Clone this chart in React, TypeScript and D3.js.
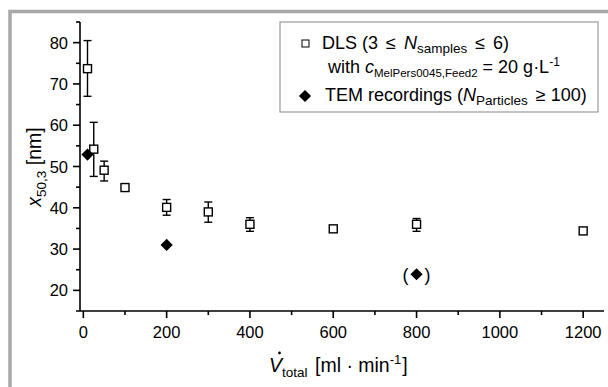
import React from "react";
import * as d3 from "d3";

// DLS measurements (open squares with error bars)
const dlsFlow = [10, 25, 50, 100, 200, 300, 400, 600, 800, 1200];
const dlsSize = [73.7, 54.2, 49.1, 44.9, 40.1, 39.0, 36.0, 34.9, 36.0, 34.4];
const dlsLow = [67.0, 47.6, 46.5, 44.1, 38.2, 36.5, 34.3, 34.4, 34.3, 33.8];
const dlsHigh = [80.5, 60.7, 51.3, 45.7, 42.0, 41.4, 37.6, 35.4, 37.4, 35.0];

// TEM recordings (filled diamonds)
const temFlow = [10, 200, 800];
const temSize = [52.9, 31.0, 23.9];

const xTicks = [0, 200, 400, 600, 800, 1000, 1200];
const xMinor = [100, 300, 500, 700, 900, 1100];
const yTicks = [20, 30, 40, 50, 60, 70, 80];
const yMinor = [25, 35, 45, 55, 65, 75, 85];

const W = 608;
const H = 387;
const font = "'Liberation Sans', Arial, sans-serif";

const x = d3.scaleLinear().domain([-8, 1250]).range([80, 604]);
const y = d3.scaleLinear().domain([15, 85]).range([311, 22]);

const diamond = d3.symbol().type(d3.symbolDiamond2).size(95)();

export default function App() {
  const sq = 8;
  return (
    <svg width={W} height={H} style={{ position: "absolute", left: 0, top: 0 }} fontFamily={font}>
      <rect x={0} y={0} width={W} height={H} fill="#fff" />
      {/* outer grey frame */}
      <rect x={10} y={11.5} width={W + 50} height={H + 50} fill="none" stroke="#a8a8a8" strokeWidth={3.5} />

      {/* axes */}
      <line x1={80} x2={80} y1={y(85)} y2={y(15)} stroke="#000" strokeWidth={1.6} />
      <line x1={76} x2={604} y1={y(15)} y2={y(15)} stroke="#000" strokeWidth={1.6} />
      {yTicks.map((t) => (
        <g key={"y" + t}>
          <line x1={73} x2={80} y1={y(t)} y2={y(t)} stroke="#000" strokeWidth={1.6} />
          <text x={68} y={y(t) + 6} textAnchor="end" fontSize={16.5}>{t}</text>
        </g>
      ))}
      {yMinor.map((t) => (
        <line key={"ym" + t} x1={76} x2={80} y1={y(t)} y2={y(t)} stroke="#000" strokeWidth={1.6} />
      ))}
      {xTicks.map((t) => (
        <g key={"x" + t}>
          <line x1={x(t)} x2={x(t)} y1={y(15)} y2={y(15) + 7} stroke="#000" strokeWidth={1.6} />
          <text x={x(t)} y={338} textAnchor="middle" fontSize={16.5}>{t}</text>
        </g>
      ))}
      {xMinor.map((t) => (
        <line key={"xm" + t} x1={x(t)} x2={x(t)} y1={y(15)} y2={y(15) + 4} stroke="#000" strokeWidth={1.6} />
      ))}

      {/* axis titles */}
      <text x={269} y={372} fontSize={19.5}>
        <tspan fontStyle="italic">V</tspan>
        <tspan fontSize={13.5} dy={5}>total</tspan>
        <tspan dy={-5} dx={2}> [ml · min</tspan>
        <tspan fontSize={13} dy={-8}>-1</tspan>
        <tspan dy={8} dx={1}>]</tspan>
      </text>
      <circle cx={279.5} cy={353} r={1.4} fill="#000" />
      <text transform="translate(41,167) rotate(-90)" textAnchor="middle" fontSize={19.5}>
        <tspan fontStyle="italic">x</tspan>
        <tspan fontSize={13.5} dy={5}>50,3</tspan>
        <tspan dy={-5}> [nm]</tspan>
      </text>

      {/* DLS error bars and squares */}
      {dlsFlow.map((f, i) => (
        <g key={"dls" + i} stroke="#000" strokeWidth={1.4}>
          <line x1={x(f)} x2={x(f)} y1={y(dlsLow[i])} y2={y(dlsHigh[i])} />
          <line x1={x(f) - 4} x2={x(f) + 4} y1={y(dlsLow[i])} y2={y(dlsLow[i])} />
          <line x1={x(f) - 4} x2={x(f) + 4} y1={y(dlsHigh[i])} y2={y(dlsHigh[i])} />
          <rect x={x(f) - sq / 2} y={y(dlsSize[i]) - sq / 2} width={sq} height={sq} fill="#fff" />
        </g>
      ))}

      {/* TEM diamonds */}
      {temFlow.map((f, i) => (
        <path key={"tem" + i} d={diamond} transform={`translate(${x(f)},${y(temSize[i])})`} fill="#000" />
      ))}
      <text x={x(temFlow[2]) - 11} y={y(temSize[2]) + 6.5} fontSize={18} textAnchor="middle">(</text>
      <text x={x(temFlow[2]) + 11} y={y(temSize[2]) + 6.5} fontSize={18} textAnchor="middle">)</text>

      {/* legend */}
      <rect x={280} y={22} width={318} height={90} fill="#fff" stroke="#9a9a9a" strokeWidth={1.2} />
      <rect x={302} y={40} width={7} height={7} fill="#fff" stroke="#000" strokeWidth={1} />
      <text x={322} y={49} fontSize={18}>
        <tspan>DLS (3</tspan>
        <tspan dx={8}>≤</tspan>
        <tspan dx={8} fontStyle="italic">N</tspan>
        <tspan fontSize={13.5} dy={4}>samples</tspan>
        <tspan dy={-4} dx={8}>≤</tspan>
        <tspan dx={8}>6)</tspan>
      </text>
      <text x={328} y={73} fontSize={18}>
        with <tspan fontStyle="italic">c</tspan>
        <tspan fontSize={11.5} dy={4}>MelPers0045,Feed2</tspan>
        <tspan dy={-4}> = 20 g·L</tspan>
        <tspan fontSize={12} dy={-7}>-1</tspan>
      </text>
      <path d={diamond} transform="translate(305,96)" fill="#000" />
      <text x={325} y={101} fontSize={18}>
        TEM recordings (<tspan fontStyle="italic">N</tspan>
        <tspan fontSize={13.5} dy={4}>Particles</tspan>
        <tspan dy={-4} dx={3}> ≥ 100)</tspan>
      </text>
    </svg>
  );
}
